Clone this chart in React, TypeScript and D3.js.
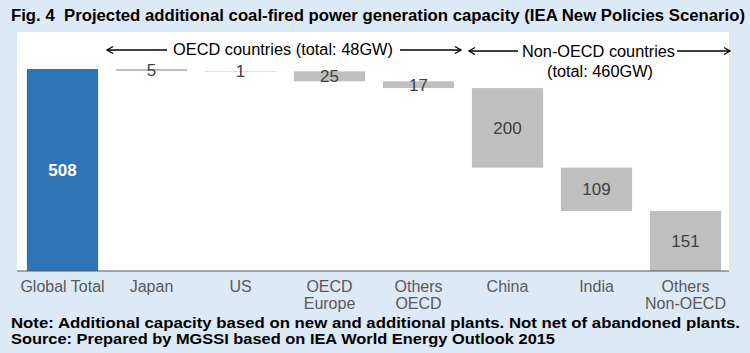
import React from 'react';
import * as d3 from 'd3';

const categories: string[][] = [
  ['Global Total'],
  ['Japan'],
  ['US'],
  ['OECD', 'Europe'],
  ['Others', 'OECD'],
  ['China'],
  ['India'],
  ['Others', 'Non-OECD'],
];
const values = [508, 5, 1, 25, 17, 200, 109, 151];
const isTotal = [true, false, false, false, false, false, false, false];

const title = 'Fig. 4  Projected additional coal-fired power generation capacity (IEA New Policies Scenario)';
const noteLines = [
  'Note: Additional capacity based on new and additional plants. Not net of abandoned plants.',
  'Source: Prepared by MGSSI based on IEA World Energy Outlook 2015',
];

const W = 750;
const H = 353;
const BG = '#dce9f6';
const BLUE = '#2e75b6';
const GRAY = '#bfbfbf';
const FONT = '"Liberation Sans", Arial, sans-serif';

const plot = { left: 17, right: 729, top: 32, bottom: 271 };

const Arrow: React.FC<{ x1: number; x2: number; y: number; heads: 'left' | 'right' }> = ({ x1, x2, y, heads }) => {
  const hx = heads === 'left' ? x1 : x2;
  const d = heads === 'left' ? 1 : -1;
  return (
    <g stroke="#000" strokeWidth={1.3} fill="none">
      <line x1={x1} x2={x2} y1={y} y2={y} />
      <path d={`M${hx + d * 6},${y - 3.5} L${hx},${y} L${hx + d * 6},${y + 3.5}`} />
    </g>
  );
};

export default function App() {
  const x = d3
    .scaleBand<number>()
    .domain(d3.range(categories.length))
    .range([18, 730])
    .paddingInner(0.2)
    .paddingOuter(0.1);

  const y = d3.scaleLinear().domain([0, 508]).range([plot.bottom, 69]);

  // running totals for the waterfall
  let running = 0;
  const bars = values.map((v, i) => {
    let lo: number, hi: number;
    if (isTotal[i]) {
      lo = 0;
      hi = v;
      running = v;
    } else {
      hi = running;
      lo = running - v;
      running = lo;
    }
    return { i, v, lo, hi };
  });

  return (
    <svg width={W} height={H} style={{ display: 'block', position: 'absolute', left: 0, top: 0 }} fontFamily={FONT}>
      <rect x={0} y={0} width={W} height={H} fill={BG} />
      <text
        x={11}
        y={21}
        fontSize={16}
        fontWeight="bold"
        fill="#000"
        textLength={734}
        lengthAdjust="spacingAndGlyphs"
        style={{ whiteSpace: 'pre' }}
      >
        {title}
      </text>
      <rect x={plot.left} y={plot.top} width={plot.right - plot.left} height={plot.bottom - plot.top} fill="#fff" />

      {bars.map(b => (
        <rect
          key={b.i}
          x={x(b.i)!}
          y={y(b.hi)}
          width={x.bandwidth()}
          height={Math.max(y(b.lo) - y(b.hi), 0.5)}
          fill={isTotal[b.i] ? BLUE : GRAY}
        />
      ))}

      {bars.map(b => (
        <text
          key={'v' + b.i}
          x={x(b.i)! + x.bandwidth() / 2}
          y={(y(b.lo) + y(b.hi)) / 2}
          dy="0.36em"
          textAnchor="middle"
          fontSize={17}
          fontWeight={isTotal[b.i] ? 'bold' : 'normal'}
          fill={isTotal[b.i] ? '#fff' : '#404040'}
        >
          {b.v}
        </text>
      ))}

      <line x1={plot.left} x2={plot.right} y1={plot.bottom} y2={plot.bottom} stroke="#595959" strokeWidth={1.2} />

      {categories.map((lines, i) => (
        <text key={'c' + i} textAnchor="middle" fontSize={16} fill="#595959">
          {lines.map((l, j) => (
            <tspan key={j} x={x(i)! + x.bandwidth() / 2} y={292 + j * 17}>
              {l}
            </tspan>
          ))}
        </text>
      ))}

      {/* group annotations */}
      <Arrow x1={107} x2={167} y={50} heads="left" />
      <text x={173} y={55} fontSize={16} fill="#000" textLength={220} lengthAdjust="spacingAndGlyphs">
        OECD countries (total: 48GW)
      </text>
      <Arrow x1={400} x2={461} y={50} heads="right" />
      <Arrow x1={469} x2={518} y={51} heads="left" />
      <text x={522} y={57} fontSize={16} fill="#000" textLength={153} lengthAdjust="spacingAndGlyphs">
        Non-OECD countries
      </text>
      <text x={547} y={77} fontSize={16} fill="#000" textLength={106} lengthAdjust="spacingAndGlyphs">
        (total: 460GW)
      </text>
      <Arrow x1={677} x2={730} y={51} heads="right" />

      {noteLines.map((l, i) => (
        <text
          key={'n' + i}
          x={11}
          y={328 + i * 15.5}
          fontSize={14.5}
          fontWeight="bold"
          fill="#000"
          textLength={i === 0 ? 729 : 544}
          lengthAdjust="spacingAndGlyphs"
        >
          {l}
        </text>
      ))}
    </svg>
  );
}
